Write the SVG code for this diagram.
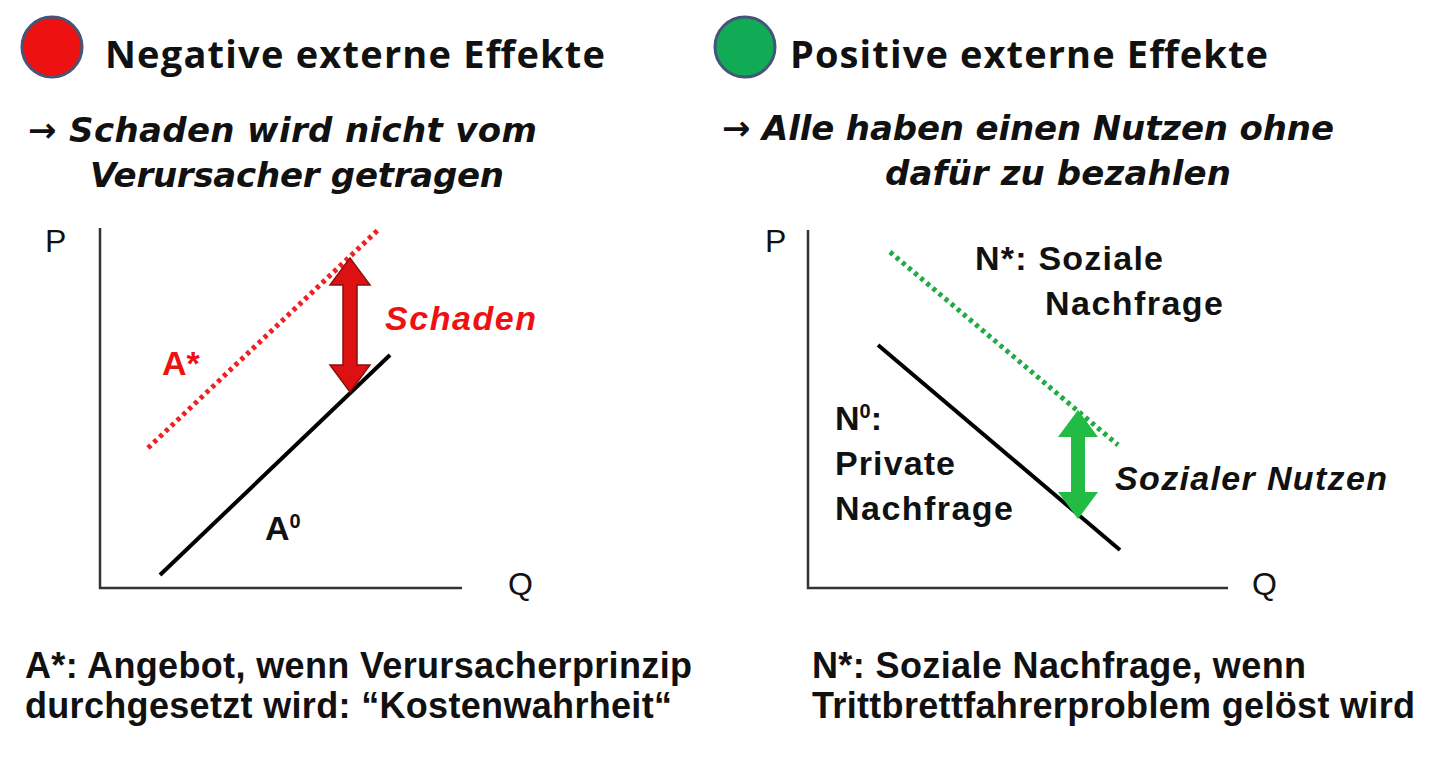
<svg xmlns="http://www.w3.org/2000/svg" width="1440" height="757" viewBox="0 0 1440 757">
<style>
.t{font-family:"Open Sans","Liberation Sans",sans-serif;font-weight:700;font-size:38px;fill:#111}
.i{font-family:"DejaVu Sans",sans-serif;font-weight:bold;font-style:oblique;font-size:34px;fill:#111}
.a{font-family:"Liberation Sans",Arial,sans-serif;font-weight:bold;font-size:34px;fill:#111}
.b{font-family:"Liberation Sans",Arial,sans-serif;font-weight:bold;font-size:36px;fill:#111}
.ax{font-family:"Liberation Sans",Arial,sans-serif;font-size:32px;fill:#111}
.axis{stroke:#333;stroke-width:2.5;fill:none}
</style>
<rect width="1440" height="757" fill="#fff"/>
<g id="left">
<circle cx="52" cy="47" r="30" fill="#ee1111" stroke="#44557a" stroke-width="3"/>
<text class="t" x="105" y="68" textLength="500">Negative externe Effekte</text>
<text class="i" x="28" y="142" textLength="509">→ Schaden wird nicht vom</text>
<text class="i" x="90" y="187" textLength="414">Verursacher getragen</text>
<path class="axis" d="M100,228V588H462"/>
<text class="ax" x="45" y="252">P</text>
<text class="ax" x="508" y="595">Q</text>
<line x1="160" y1="575" x2="390" y2="355" stroke="#000" stroke-width="4"/>
<line x1="148" y1="448" x2="380" y2="228" stroke="#ee2222" stroke-width="5" stroke-dasharray="4,4"/>
<polygon points="350,258 330,285 343,285 343,365 330,365 350,392 370,365 357,365 357,285 370,285" fill="#dd1111" stroke="#881111" stroke-width="1.5"/>
<text class="a" x="385" y="330" textLength="151" style="font-style:italic;fill:#ee1111">Schaden</text>
<text class="a" x="162" y="375" style="fill:#ee1111">A*</text>
<text class="a" x="265" y="540">A<tspan font-size="20" dy="-12">0</tspan></text>
<text class="b" x="25" y="678" textLength="667">A*: Angebot, wenn Verursacherprinzip</text>
<text class="b" x="25" y="718" textLength="647">durchgesetzt wird: “Kostenwahrheit“</text>
</g>
<g id="right">
<circle cx="745" cy="47" r="30" fill="#11aa55" stroke="#44557a" stroke-width="3"/>
<text class="t" x="790" y="68" textLength="478">Positive externe Effekte</text>
<text class="i" x="722" y="140" textLength="612">→ Alle haben einen Nutzen ohne</text>
<text class="i" x="885" y="185" textLength="346">dafür zu bezahlen</text>
<path class="axis" d="M808,230V588H1228"/>
<text class="ax" x="765" y="252">P</text>
<text class="ax" x="1252" y="595">Q</text>
<line x1="878" y1="345" x2="1120" y2="550" stroke="#000" stroke-width="4"/>
<line x1="890" y1="252" x2="1118" y2="445" stroke="#22aa44" stroke-width="5" stroke-dasharray="4,4"/>
<polygon points="1078,410 1058,437 1071,437 1071,492 1058,492 1078,519 1098,492 1085,492 1085,437 1098,437" fill="#22bb44"/>
<text class="a" x="975" y="270" textLength="188">N*: Soziale</text>
<text class="a" x="1045" y="315" textLength="178">Nachfrage</text>
<text class="a" x="835" y="430">N<tspan font-size="20" dy="-12">0</tspan><tspan dy="12">:</tspan></text>
<text class="a" x="835" y="475" textLength="120">Private</text>
<text class="a" x="835" y="520" textLength="178">Nachfrage</text>
<text class="a" x="1115" y="490" textLength="272" style="font-style:italic">Sozialer Nutzen</text>
<text class="b" x="812" y="678" textLength="494">N*: Soziale Nachfrage, wenn</text>
<text class="b" x="812" y="718" textLength="603">Trittbrettfahrerproblem gelöst wird</text>
</g>
</svg>
